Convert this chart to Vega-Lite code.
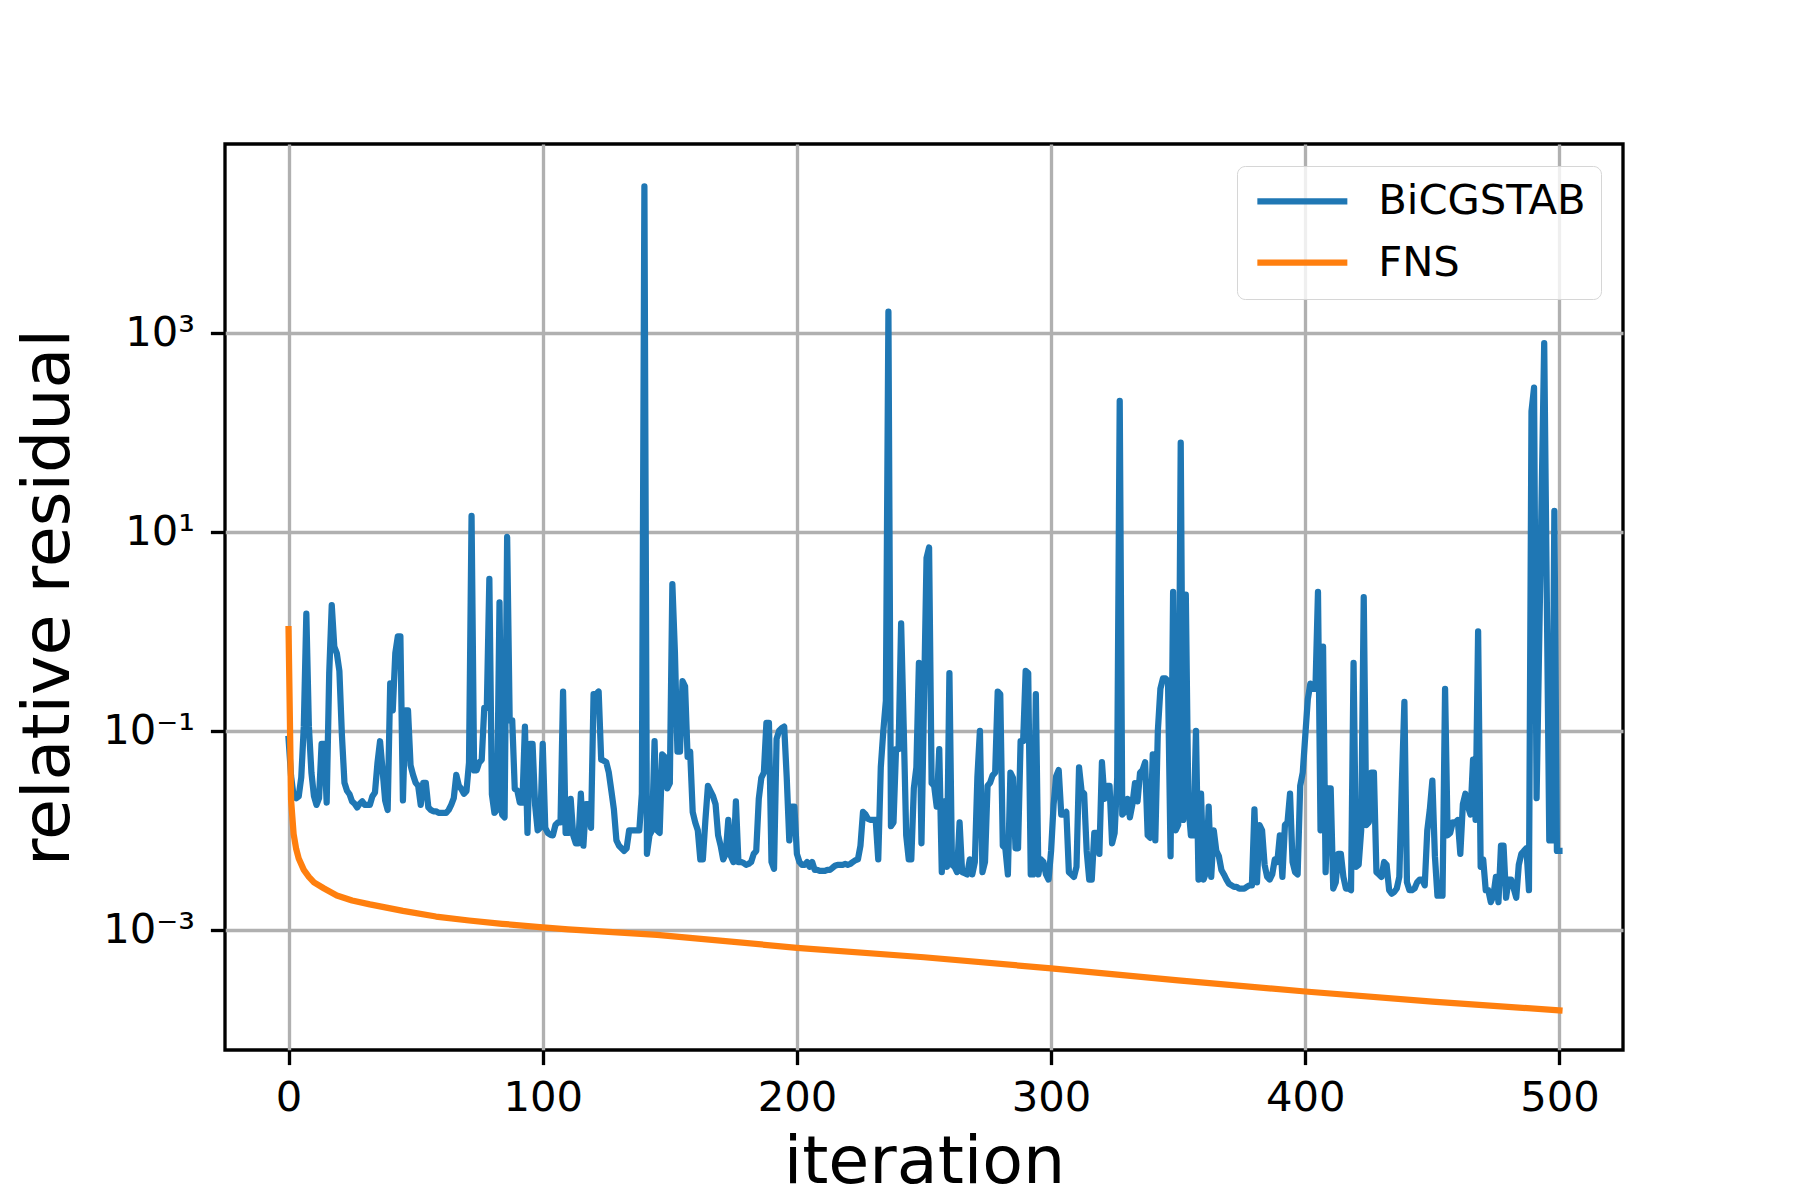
{
  "$schema": "https://vega.github.io/schema/vega-lite/v6.json",
  "width": 1398,
  "height": 906,
  "autosize": {"type": "none"},
  "padding": {"left": 225, "top": 144, "right": 177, "bottom": 150},
  "background": "white",
  "datasets": {
    "bicgstab": [
      {"iteration":0,"residual":0.083},{"iteration":1,"residual":0.035},{"iteration":2,"residual":0.022},{"iteration":3,"residual":0.021},{"iteration":4,"residual":0.022},
      {"iteration":5,"residual":0.034},{"iteration":6,"residual":0.11},{"iteration":7,"residual":1.5},{"iteration":8,"residual":0.11},{"iteration":9,"residual":0.038},
      {"iteration":10,"residual":0.022},{"iteration":11,"residual":0.018},{"iteration":12,"residual":0.021},{"iteration":13,"residual":0.074},{"iteration":14,"residual":0.074},
      {"iteration":15,"residual":0.019},{"iteration":16,"residual":0.38},{"iteration":17,"residual":1.83},{"iteration":18,"residual":0.7},{"iteration":19,"residual":0.6},
      {"iteration":20,"residual":0.4},{"iteration":21,"residual":0.09},{"iteration":22,"residual":0.03},{"iteration":23,"residual":0.025},{"iteration":24,"residual":0.023},
      {"iteration":25,"residual":0.0195},{"iteration":26,"residual":0.0185},{"iteration":27,"residual":0.017},{"iteration":28,"residual":0.0185},{"iteration":29,"residual":0.0195},
      {"iteration":30,"residual":0.018},{"iteration":31,"residual":0.018},{"iteration":32,"residual":0.018},{"iteration":33,"residual":0.022},{"iteration":34,"residual":0.024},
      {"iteration":35,"residual":0.048},{"iteration":36,"residual":0.0785},{"iteration":37,"residual":0.04},{"iteration":38,"residual":0.02},{"iteration":39,"residual":0.016},
      {"iteration":40,"residual":0.3},{"iteration":41,"residual":0.16},{"iteration":42,"residual":0.6},{"iteration":43,"residual":0.89},{"iteration":44,"residual":0.89},
      {"iteration":45,"residual":0.02},{"iteration":46,"residual":0.16},{"iteration":47,"residual":0.16},{"iteration":48,"residual":0.045},{"iteration":49,"residual":0.036},
      {"iteration":50,"residual":0.03},{"iteration":51,"residual":0.028},{"iteration":52,"residual":0.018},{"iteration":53,"residual":0.03},{"iteration":54,"residual":0.03},
      {"iteration":55,"residual":0.017},{"iteration":56,"residual":0.016},{"iteration":57,"residual":0.0155},{"iteration":58,"residual":0.0155},{"iteration":59,"residual":0.015},
      {"iteration":60,"residual":0.015},{"iteration":61,"residual":0.015},{"iteration":62,"residual":0.015},{"iteration":63,"residual":0.016},{"iteration":64,"residual":0.018},
      {"iteration":65,"residual":0.021},{"iteration":66,"residual":0.036},{"iteration":67,"residual":0.028},{"iteration":68,"residual":0.026},{"iteration":69,"residual":0.0233},
      {"iteration":70,"residual":0.0248},{"iteration":71,"residual":0.048},{"iteration":72,"residual":14.4},{"iteration":73,"residual":0.04},{"iteration":74,"residual":0.04},
      {"iteration":75,"residual":0.048},{"iteration":76,"residual":0.051},{"iteration":77,"residual":0.17},{"iteration":78,"residual":0.17},{"iteration":79,"residual":3.36},
      {"iteration":80,"residual":0.023},{"iteration":81,"residual":0.015},{"iteration":82,"residual":0.016},{"iteration":83,"residual":1.95},{"iteration":84,"residual":0.0144},
      {"iteration":85,"residual":0.0135},{"iteration":86,"residual":8.86},{"iteration":87,"residual":0.127},{"iteration":88,"residual":0.127},{"iteration":89,"residual":0.026},
      {"iteration":90,"residual":0.025},{"iteration":91,"residual":0.019},{"iteration":92,"residual":0.019},{"iteration":93,"residual":0.11},{"iteration":94,"residual":0.0094},
      {"iteration":95,"residual":0.074},{"iteration":96,"residual":0.074},{"iteration":97,"residual":0.018},{"iteration":98,"residual":0.01},{"iteration":99,"residual":0.0106},
      {"iteration":100,"residual":0.074},{"iteration":101,"residual":0.0106},{"iteration":102,"residual":0.0094},{"iteration":103,"residual":0.009},{"iteration":104,"residual":0.0089},
      {"iteration":105,"residual":0.0113},{"iteration":106,"residual":0.012},{"iteration":107,"residual":0.012},{"iteration":108,"residual":0.248},{"iteration":109,"residual":0.0094},
      {"iteration":110,"residual":0.0094},{"iteration":111,"residual":0.0207},{"iteration":112,"residual":0.0089},{"iteration":113,"residual":0.0074},{"iteration":114,"residual":0.0074},
      {"iteration":115,"residual":0.0233},{"iteration":116,"residual":0.007},{"iteration":117,"residual":0.0183},{"iteration":118,"residual":0.0183},{"iteration":119,"residual":0.0106},
      {"iteration":120,"residual":0.233},{"iteration":121,"residual":0.233},{"iteration":122,"residual":0.248},{"iteration":123,"residual":0.0513},{"iteration":124,"residual":0.05},
      {"iteration":125,"residual":0.0483},{"iteration":126,"residual":0.038},{"iteration":127,"residual":0.025},{"iteration":128,"residual":0.0162},{"iteration":129,"residual":0.0079},
      {"iteration":130,"residual":0.007},{"iteration":131,"residual":0.0066},{"iteration":132,"residual":0.0062},{"iteration":133,"residual":0.0066},{"iteration":134,"residual":0.01},
      {"iteration":135,"residual":0.01},{"iteration":136,"residual":0.01},{"iteration":137,"residual":0.01},{"iteration":138,"residual":0.01},{"iteration":139,"residual":0.0233},
      {"iteration":140,"residual":29500},{"iteration":141,"residual":0.0058},{"iteration":142,"residual":0.0089},{"iteration":143,"residual":0.01},{"iteration":144,"residual":0.0785},
      {"iteration":145,"residual":0.01},{"iteration":146,"residual":0.0094},{"iteration":147,"residual":0.058},{"iteration":148,"residual":0.0546},{"iteration":149,"residual":0.0264},
      {"iteration":150,"residual":0.0298},{"iteration":151,"residual":2.98},{"iteration":152,"residual":0.62},{"iteration":153,"residual":0.0617},{"iteration":154,"residual":0.0617},
      {"iteration":155,"residual":0.316},{"iteration":156,"residual":0.28},{"iteration":157,"residual":0.0546},{"iteration":158,"residual":0.0617},{"iteration":159,"residual":0.0153},
      {"iteration":160,"residual":0.012},{"iteration":161,"residual":0.01},{"iteration":162,"residual":0.0051},{"iteration":163,"residual":0.0051},{"iteration":164,"residual":0.0127},
      {"iteration":165,"residual":0.028},{"iteration":166,"residual":0.0248},{"iteration":167,"residual":0.022},{"iteration":168,"residual":0.0183},{"iteration":169,"residual":0.0089},
      {"iteration":170,"residual":0.007},{"iteration":171,"residual":0.0051},{"iteration":172,"residual":0.0058},{"iteration":173,"residual":0.0127},{"iteration":174,"residual":0.0055},
      {"iteration":175,"residual":0.0048},{"iteration":176,"residual":0.0195},{"iteration":177,"residual":0.0048},{"iteration":178,"residual":0.0048},{"iteration":179,"residual":0.0047},
      {"iteration":180,"residual":0.0045},{"iteration":181,"residual":0.0046},{"iteration":182,"residual":0.0048},{"iteration":183,"residual":0.0058},{"iteration":184,"residual":0.0062},
      {"iteration":185,"residual":0.0207},{"iteration":186,"residual":0.0336},{"iteration":187,"residual":0.038},{"iteration":188,"residual":0.12},{"iteration":189,"residual":0.12},
      {"iteration":190,"residual":0.0048},{"iteration":191,"residual":0.0041},{"iteration":192,"residual":0.083},{"iteration":193,"residual":0.1},{"iteration":194,"residual":0.106},
      {"iteration":195,"residual":0.11},{"iteration":196,"residual":0.0336},{"iteration":197,"residual":0.0079},{"iteration":198,"residual":0.0173},{"iteration":199,"residual":0.0173},
      {"iteration":200,"residual":0.0058},{"iteration":201,"residual":0.0048},{"iteration":202,"residual":0.0045},{"iteration":203,"residual":0.0045},{"iteration":204,"residual":0.0048},
      {"iteration":205,"residual":0.0043},{"iteration":206,"residual":0.0048},{"iteration":207,"residual":0.004},{"iteration":208,"residual":0.004},{"iteration":209,"residual":0.0039},
      {"iteration":210,"residual":0.0039},{"iteration":211,"residual":0.0039},{"iteration":212,"residual":0.004},{"iteration":213,"residual":0.004},{"iteration":214,"residual":0.0042},
      {"iteration":215,"residual":0.0044},{"iteration":216,"residual":0.0045},{"iteration":217,"residual":0.0045},{"iteration":218,"residual":0.0045},{"iteration":219,"residual":0.0046},
      {"iteration":220,"residual":0.0045},{"iteration":221,"residual":0.0046},{"iteration":222,"residual":0.0048},{"iteration":223,"residual":0.005},{"iteration":224,"residual":0.0051},
      {"iteration":225,"residual":0.007},{"iteration":226,"residual":0.0153},{"iteration":227,"residual":0.0144},{"iteration":228,"residual":0.013},{"iteration":229,"residual":0.0127},
      {"iteration":230,"residual":0.0127},{"iteration":231,"residual":0.0127},{"iteration":232,"residual":0.0051},{"iteration":233,"residual":0.043},{"iteration":234,"residual":0.1},
      {"iteration":235,"residual":0.2},{"iteration":236,"residual":1625},{"iteration":237,"residual":0.011},{"iteration":238,"residual":0.012},{"iteration":239,"residual":0.0655},
      {"iteration":240,"residual":0.0655},{"iteration":241,"residual":1.2},{"iteration":242,"residual":0.113},{"iteration":243,"residual":0.0089},{"iteration":244,"residual":0.0051},
      {"iteration":245,"residual":0.0051},{"iteration":246,"residual":0.0264},{"iteration":247,"residual":0.0428},{"iteration":248,"residual":0.48},{"iteration":249,"residual":0.0074},
      {"iteration":251,"residual":5.46},{"iteration":252,"residual":6.95},{"iteration":253,"residual":0.0298},{"iteration":254,"residual":0.028},
      {"iteration":255,"residual":0.0173},{"iteration":256,"residual":0.0655},{"iteration":257,"residual":0.0038},{"iteration":258,"residual":0.0195},{"iteration":259,"residual":0.0043},
      {"iteration":260,"residual":0.38},{"iteration":261,"residual":0.0045},{"iteration":262,"residual":0.0043},{"iteration":263,"residual":0.0038},{"iteration":264,"residual":0.012},
      {"iteration":265,"residual":0.0038},{"iteration":266,"residual":0.0037},{"iteration":267,"residual":0.0036},{"iteration":268,"residual":0.0051},{"iteration":269,"residual":0.0036},
      {"iteration":270,"residual":0.0048},{"iteration":271,"residual":0.034},{"iteration":272,"residual":0.1},{"iteration":273,"residual":0.0038},{"iteration":274,"residual":0.0048},
      {"iteration":275,"residual":0.028},{"iteration":276,"residual":0.03},{"iteration":277,"residual":0.0357},{"iteration":278,"residual":0.038},{"iteration":279,"residual":0.248},
      {"iteration":280,"residual":0.233},{"iteration":281,"residual":0.007},{"iteration":282,"residual":0.0066},{"iteration":283,"residual":0.0036},{"iteration":284,"residual":0.038},
      {"iteration":285,"residual":0.0336},{"iteration":286,"residual":0.0066},{"iteration":287,"residual":0.0066},{"iteration":288,"residual":0.0785},{"iteration":289,"residual":0.0785},
      {"iteration":290,"residual":0.4},{"iteration":291,"residual":0.38},{"iteration":292,"residual":0.0036},{"iteration":293,"residual":0.0036},{"iteration":294,"residual":0.233},
      {"iteration":295,"residual":0.0036},{"iteration":296,"residual":0.0051},{"iteration":297,"residual":0.0048},{"iteration":298,"residual":0.0036},{"iteration":299,"residual":0.0032},
      {"iteration":300,"residual":0.0062},{"iteration":301,"residual":0.0183},{"iteration":302,"residual":0.035},{"iteration":303,"residual":0.0403},{"iteration":304,"residual":0.0144},
      {"iteration":305,"residual":0.0144},{"iteration":306,"residual":0.0153},{"iteration":307,"residual":0.0038},{"iteration":308,"residual":0.0036},{"iteration":309,"residual":0.0034},
      {"iteration":310,"residual":0.0043},{"iteration":311,"residual":0.0428},{"iteration":312,"residual":0.0248},{"iteration":313,"residual":0.0233},{"iteration":314,"residual":0.0062},
      {"iteration":315,"residual":0.0032},{"iteration":316,"residual":0.0032},{"iteration":317,"residual":0.0094},{"iteration":318,"residual":0.0094},{"iteration":319,"residual":0.0058},
      {"iteration":320,"residual":0.0483},{"iteration":321,"residual":0.0207},{"iteration":322,"residual":0.028},{"iteration":323,"residual":0.028},{"iteration":324,"residual":0.0074},
      {"iteration":325,"residual":0.0094},{"iteration":326,"residual":0.0336},{"iteration":327,"residual":207},{"iteration":328,"residual":0.0144},{"iteration":329,"residual":0.0153},
      {"iteration":330,"residual":0.0207},{"iteration":331,"residual":0.0135},{"iteration":332,"residual":0.0183},{"iteration":333,"residual":0.0298},{"iteration":334,"residual":0.0195},
      {"iteration":335,"residual":0.038},{"iteration":336,"residual":0.0403},{"iteration":337,"residual":0.0483},{"iteration":338,"residual":0.0089},{"iteration":339,"residual":0.0084},
      {"iteration":340,"residual":0.058},{"iteration":341,"residual":0.0079},{"iteration":342,"residual":0.1},{"iteration":343,"residual":0.264},{"iteration":344,"residual":0.336},
      {"iteration":345,"residual":0.336},{"iteration":346,"residual":0.316},{"iteration":347,"residual":0.0055},{"iteration":348,"residual":2.48},{"iteration":349,"residual":0.01},
      {"iteration":350,"residual":0.0113},{"iteration":351,"residual":78.5},{"iteration":352,"residual":0.0127},{"iteration":353,"residual":2.33},{"iteration":354,"residual":0.0183},
      {"iteration":355,"residual":0.0089},{"iteration":356,"residual":0.0089},{"iteration":357,"residual":0.1},{"iteration":358,"residual":0.0032},{"iteration":359,"residual":0.0233},
      {"iteration":360,"residual":0.0032},{"iteration":361,"residual":0.0038},{"iteration":362,"residual":0.0173},{"iteration":363,"residual":0.0034},{"iteration":364,"residual":0.01},
      {"iteration":365,"residual":0.0062},{"iteration":366,"residual":0.0055},{"iteration":367,"residual":0.004},{"iteration":368,"residual":0.0036},{"iteration":369,"residual":0.0032},
      {"iteration":370,"residual":0.0029},{"iteration":371,"residual":0.0028},{"iteration":372,"residual":0.0027},{"iteration":373,"residual":0.0027},{"iteration":374,"residual":0.0026},
      {"iteration":375,"residual":0.0026},{"iteration":376,"residual":0.0026},{"iteration":377,"residual":0.0027},{"iteration":378,"residual":0.0028},{"iteration":379,"residual":0.0028},
      {"iteration":380,"residual":0.0162},{"iteration":381,"residual":0.003},{"iteration":382,"residual":0.0113},{"iteration":383,"residual":0.01},{"iteration":384,"residual":0.0045},
      {"iteration":385,"residual":0.0034},{"iteration":386,"residual":0.0032},{"iteration":387,"residual":0.0036},{"iteration":388,"residual":0.0051},{"iteration":389,"residual":0.0048},
      {"iteration":390,"residual":0.0089},{"iteration":391,"residual":0.0034},{"iteration":392,"residual":0.0113},{"iteration":393,"residual":0.012},{"iteration":394,"residual":0.0233},
      {"iteration":395,"residual":0.0048},{"iteration":396,"residual":0.0038},{"iteration":397,"residual":0.0036},{"iteration":398,"residual":0.028},{"iteration":399,"residual":0.038},
      {"iteration":400,"residual":0.089},{"iteration":401,"residual":0.207},{"iteration":402,"residual":0.298},{"iteration":403,"residual":0.264},{"iteration":404,"residual":0.264},
      {"iteration":405,"residual":2.48},{"iteration":406,"residual":0.01},{"iteration":407,"residual":0.7},{"iteration":408,"residual":0.0038},{"iteration":409,"residual":0.0264},
      {"iteration":410,"residual":0.0264},{"iteration":411,"residual":0.0026},{"iteration":412,"residual":0.003},{"iteration":413,"residual":0.0058},{"iteration":414,"residual":0.0058},
      {"iteration":415,"residual":0.0034},{"iteration":416,"residual":0.0026},{"iteration":417,"residual":0.0026},{"iteration":418,"residual":0.0025},{"iteration":419,"residual":0.48},
      {"iteration":420,"residual":0.0043},{"iteration":421,"residual":0.0045},{"iteration":422,"residual":0.01},{"iteration":423,"residual":2.2},{"iteration":424,"residual":0.0113},
      {"iteration":425,"residual":0.012},{"iteration":426,"residual":0.038},{"iteration":427,"residual":0.038},{"iteration":428,"residual":0.0038},{"iteration":429,"residual":0.0036},
      {"iteration":430,"residual":0.0034},{"iteration":431,"residual":0.0048},{"iteration":432,"residual":0.0045},{"iteration":433,"residual":0.0025},{"iteration":434,"residual":0.0023},
      {"iteration":435,"residual":0.0024},{"iteration":436,"residual":0.0026},{"iteration":437,"residual":0.0034},{"iteration":438,"residual":0.0298},{"iteration":439,"residual":0.195},
      {"iteration":440,"residual":0.003},{"iteration":441,"residual":0.0025},{"iteration":442,"residual":0.0025},{"iteration":443,"residual":0.0026},{"iteration":444,"residual":0.003},
      {"iteration":445,"residual":0.0032},{"iteration":446,"residual":0.0032},{"iteration":447,"residual":0.0028},{"iteration":448,"residual":0.01},{"iteration":449,"residual":0.0162},
      {"iteration":450,"residual":0.0316},{"iteration":451,"residual":0.0055},{"iteration":452,"residual":0.0022},{"iteration":453,"residual":0.0022},{"iteration":454,"residual":0.0022},
      {"iteration":455,"residual":0.264},{"iteration":456,"residual":0.0089},{"iteration":457,"residual":0.0094},{"iteration":458,"residual":0.012},{"iteration":459,"residual":0.012},
      {"iteration":460,"residual":0.0127},{"iteration":461,"residual":0.0058},{"iteration":462,"residual":0.0183},{"iteration":463,"residual":0.0233},{"iteration":464,"residual":0.0173},
      {"iteration":465,"residual":0.0144},{"iteration":466,"residual":0.0513},{"iteration":467,"residual":0.0127},{"iteration":468,"residual":1.0},{"iteration":469,"residual":0.0043},
      {"iteration":470,"residual":0.0051},{"iteration":471,"residual":0.0025},{"iteration":472,"residual":0.0025},{"iteration":473,"residual":0.0019},{"iteration":474,"residual":0.0022},
      {"iteration":475,"residual":0.0034},{"iteration":476,"residual":0.0019},{"iteration":477,"residual":0.007},{"iteration":478,"residual":0.007},{"iteration":479,"residual":0.0021},
      {"iteration":480,"residual":0.0032},{"iteration":481,"residual":0.0032},{"iteration":482,"residual":0.0026},{"iteration":483,"residual":0.0021},{"iteration":484,"residual":0.0045},
      {"iteration":485,"residual":0.0058},{"iteration":486,"residual":0.0062},{"iteration":487,"residual":0.0066},{"iteration":488,"residual":0.0025},{"iteration":489,"residual":162},
      {"iteration":490,"residual":280},{"iteration":491,"residual":0.021},{"iteration":494,"residual":785},{"iteration":496,"residual":0.0079},
      {"iteration":497,"residual":0.0079},{"iteration":498,"residual":16.2},{"iteration":499,"residual":0.0062},{"iteration":500,"residual":0.0062}
    ],
    "fns": [
      {"iteration":0,"residual":1.05},{"iteration":1,"residual":0.02},{"iteration":2,"residual":0.0092},{"iteration":3,"residual":0.0065},{"iteration":4,"residual":0.0052},
      {"iteration":6,"residual":0.004},{"iteration":8,"residual":0.0034},{"iteration":10,"residual":0.003},{"iteration":14,"residual":0.0026},{"iteration":19,"residual":0.00221},
      {"iteration":25,"residual":0.00197},{"iteration":32,"residual":0.0018},{"iteration":45,"residual":0.00155},{"iteration":58,"residual":0.00136},{"iteration":71,"residual":0.00124},
      {"iteration":84,"residual":0.00115},{"iteration":100,"residual":0.00106},{"iteration":110,"residual":0.00101},{"iteration":145,"residual":0.00089},{"iteration":200,"residual":0.00066},
      {"iteration":250,"residual":0.00053},{"iteration":300,"residual":0.00041},{"iteration":350,"residual":0.00031},{"iteration":400,"residual":0.00024},{"iteration":450,"residual":0.00019},
      {"iteration":500,"residual":0.000155}
    ]
  },
  "encoding": {
    "x": {
      "field": "iteration",
      "type": "quantitative",
      "scale": {"domain": [-25, 525], "nice": false, "zero": false},
      "axis": {"values": [0, 100, 200, 300, 400, 500], "title": "iteration"}
    },
    "y": {
      "field": "residual",
      "type": "quantitative",
      "scale": {"type": "log", "domain": [0.000062, 78700], "nice": false},
      "axis": {
        "values": [0.001, 0.1, 10, 1000],
        "title": "relative residual",
        "labelExpr": "datum.value >= 100 ? '10³' : datum.value >= 1 ? '10¹' : datum.value >= 0.01 ? '10⁻¹' : '10⁻³'"
      }
    }
  },
  "layer": [
    {
      "data": {"name": "bicgstab"},
      "mark": {"type": "line", "strokeWidth": 6.25, "strokeJoin": "round", "strokeCap": "square", "clip": true},
      "encoding": {
        "color": {
          "datum": "BiCGSTAB",
          "type": "nominal",
          "scale": {"domain": ["BiCGSTAB", "FNS"], "range": ["#1f77b4", "#ff7f0e"]},
          "legend": {
            "title": null,
            "orient": "top-right",
            "offset": 22,
            "padding": 14.5,
            "fillColor": "rgba(255,255,255,0.8)",
            "strokeColor": "#d6d6d6",
            "cornerRadius": 8,
            "symbolType": "M-1,0L5,0",
            "symbolSize": 900,
            "symbolStrokeWidth": 6.25,
            "labelFontSize": 41.7,
            "labelFont": "DejaVu Sans",
            "labelColor": "black",
            "labelLimit": 500,
            "labelOffset": 85,
            "rowPadding": 18.3
          }
        }
      }
    },
    {
      "data": {"name": "fns"},
      "mark": {"type": "line", "strokeWidth": 6.25, "strokeJoin": "round", "strokeCap": "square", "clip": true},
      "encoding": {
        "color": {"datum": "FNS", "type": "nominal"}
      }
    }
  ],
  "config": {
    "font": "DejaVu Sans",
    "view": {"stroke": "black", "strokeWidth": 3.33},
    "axis": {
      "grid": true,
      "gridColor": "#b0b0b0",
      "gridWidth": 3.33,
      "domain": false,
      "ticks": true,
      "tickColor": "black",
      "tickWidth": 3.33,
      "tickSize": 14.6,
      "labelFont": "DejaVu Sans",
      "labelFontSize": 41.7,
      "labelColor": "black",
      "labelFlush": false,
      "labelOverlap": false,
      "titleFont": "DejaVu Sans",
      "titleFontSize": 66.7,
      "titleFontWeight": "normal",
      "titleColor": "black"
    },
    "axisX": {"labelPadding": 12.4, "titlePadding": 11},
    "axisY": {"labelPadding": 16, "titlePadding": 20}
  }
}
